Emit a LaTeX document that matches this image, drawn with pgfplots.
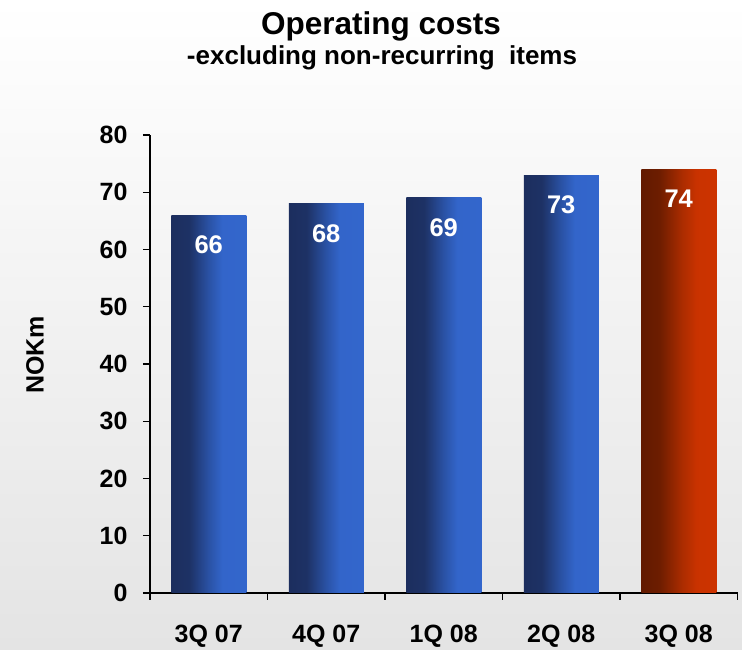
\documentclass[border=0pt]{standalone}
\usepackage{fontspec}
\setmainfont{Liberation Sans}
\usepackage{pgfplots}
\pgfplotsset{compat=1.18}
\definecolor{bdark}{RGB}{28,46,94}
\definecolor{bmid}{RGB}{42,82,165}
\definecolor{bbright}{RGB}{51,102,204}
\definecolor{rdark}{RGB}{98,26,0}
\definecolor{rmid}{RGB}{170,44,0}
\definecolor{rbright}{RGB}{204,51,0}
\definecolor{bggray}{RGB}{228,228,228}
\pgfdeclarehorizontalshading{bluebar}{100bp}{color(0bp)=(bdark); color(25bp)=(bdark); color(37bp)=(bdark!90!bmid); color(50bp)=(bmid); color(59bp)=(bbright!95!bmid); color(75bp)=(bbright); color(100bp)=(bbright)}
\pgfdeclarehorizontalshading{redbar}{100bp}{color(0bp)=(rdark); color(25bp)=(rdark); color(37bp)=(rdark!85!rmid); color(52bp)=(rmid); color(62bp)=(rbright!92!rmid); color(75bp)=(rbright); color(100bp)=(rbright)}
\begin{document}
\begin{tikzpicture}[x=1pt,y=1pt]
\shade[top color=white, bottom color=bggray] (0,0) rectangle (742,650);
\begin{axis}[
  at={(150pt,57pt)}, anchor=south west,
  scale only axis, width=587.5pt, height=458pt,
  xmin=-0.5, xmax=4.5, ymin=0, ymax=80,
  axis x line*=bottom, axis y line*=left,
  axis line style={line width=1.6pt, black},
  tick align=outside,
  ytick={0,10,...,80},
  xtick={-0.5,0.5,1.5,2.5,3.5,4.5},
  xticklabels={},
  major tick length=7pt,
  tick style={line width=1.3pt, black},
  extra x ticks={0,1,2,3,4},
  extra x tick labels={3Q 07,4Q 07,1Q 08,2Q 08,3Q 08},
  extra x tick style={major tick length=0pt,
    xticklabel style={yshift=-29pt}},
  /pgf/number format/assume math mode=true,
  ticklabel style={font=\bfseries\fontsize{25}{25}\selectfont},
  yticklabel style={xshift=-12pt},
  ybar, bar width=75pt, bar shift=0pt,
  nodes near coords,
  every node near coord/.append style={anchor=north, yshift=-17pt, text=white,
    font=\bfseries\fontsize{25.5}{25.5}\selectfont},
  clip=false,
]
\addplot[draw=none, shading=bluebar] coordinates {(0,66)};
\addplot[draw=none, shading=bluebar] coordinates {(1,68)};
\addplot[draw=none, shading=bluebar] coordinates {(2,69)};
\addplot[draw=none, shading=bluebar] coordinates {(3,73)};
\addplot[draw=none, shading=redbar] coordinates {(4,74)};
\end{axis}
\node[font=\bfseries\fontsize{31.5}{31.5}\selectfont] at (381,624) {Operating costs};
\node[font=\bfseries\fontsize{26}{26}\selectfont] at (382,592) {-excluding non-recurring\ \ items};
\node[rotate=90, font=\bfseries\fontsize{25}{25}\selectfont] at (35,295) {NOKm};
\pgfresetboundingbox
\path[use as bounding box] (0,0) rectangle (742,650);
\end{tikzpicture}
\end{document}
